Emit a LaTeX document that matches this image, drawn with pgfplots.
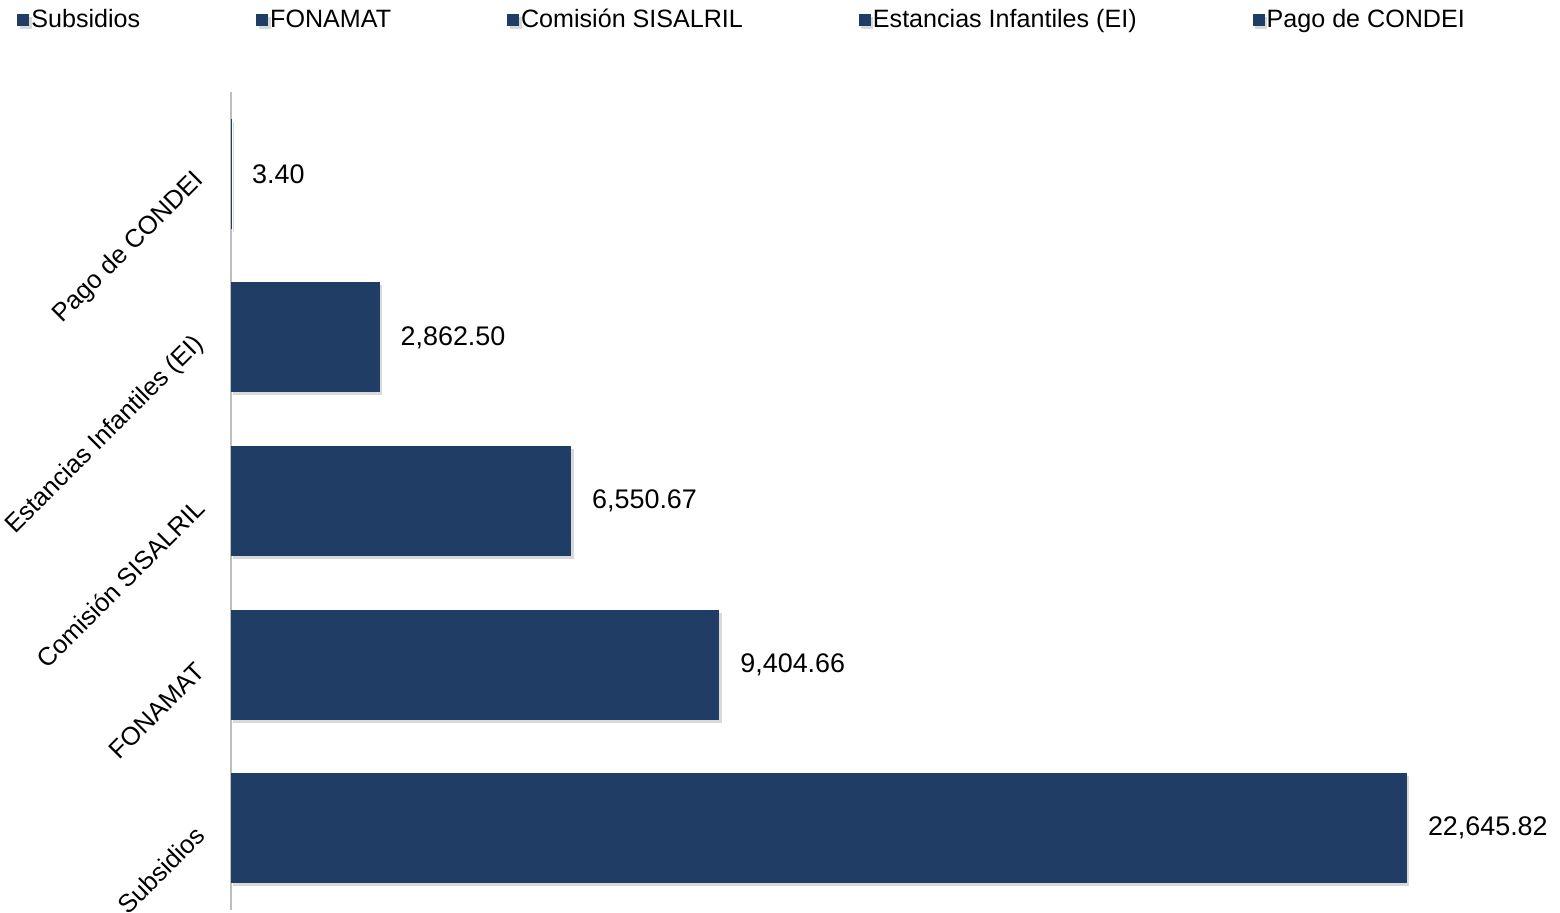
\documentclass[border=0pt]{standalone}
\usepackage{fontspec}
\setmainfont{Liberation Sans}
\usepackage{pgfplots}
\pgfplotsset{compat=1.18}

\definecolor{barBlue}{RGB}{32,61,102}
\definecolor{axisGray}{RGB}{190,190,190}

\pgfplotsset{
    barStyle/.style={
        xbar,
        bar shift=0pt,
        fill=barBlue,
        draw=none,
        preaction={fill=black!15, transform canvas={xshift=1.2bp, yshift=-1.5bp}},
    },
}

\begin{document}
\begin{tikzpicture}
\begin{axis}[
    at={(115.5bp,1.5bp)},
    anchor=south west,
    scale only axis,
    width=649.1bp,
    height=409bp,
    xbar,
    bar width=55bp,
    xmin=0, xmax=25000,
    ymin=-0.5, ymax=4.5,
    enlargelimits=false,
    axis x line=none,
    axis y line*=left,
    y axis line style={draw=axisGray, line width=1bp, -},
    ytick={0,1,2,3,4},
    yticklabels={Subsidios,FONAMAT,Comisión SISALRIL,Estancias Infantiles (EI),Pago de CONDEI},
    major tick length=0pt,
    yticklabel style={xshift=-13bp, yshift=1bp, rotate=45, anchor=east, font=\fontsize{12.8}{15}\selectfont},
    nodes near coords,
    nodes near coords align={horizontal},
    nodes near coords style={font=\fontsize{13.5}{16}\selectfont, text=black, xshift=7bp},
    /pgf/number format/.cd, fixed, fixed zerofill, precision=2, 1000 sep={,}, assume math mode=true,
    /pgfplots/.cd,
    legend columns=5,
    legend style={
        at={(axis description cs:0,1)}, anchor=west,
        xshift=-110bp, yshift=36bp,
        draw=none, fill=none,
        font=\fontsize{12.6}{15}\selectfont,
        /tikz/every even column/.append style={column sep=57bp},
        nodes={inner sep=1bp},
    },
    legend image code/.code={
        \fill[barBlue] (0bp,-3bp) rectangle (6bp,3bp);
    },
]
\addplot[barStyle] coordinates {(22645.82,0)};
\addplot[barStyle] coordinates {(9404.66,1)};
\addplot[barStyle] coordinates {(6550.67,2)};
\addplot[barStyle] coordinates {(2862.50,3)};
\addplot[barStyle] coordinates {(3.40,4)};
\legend{Subsidios,FONAMAT,Comisión SISALRIL,Estancias Infantiles (EI),Pago de CONDEI}
\end{axis}
\pgfresetboundingbox
\useasboundingbox (0,0) rectangle (780bp,456.5bp);
\end{tikzpicture}
\end{document}
